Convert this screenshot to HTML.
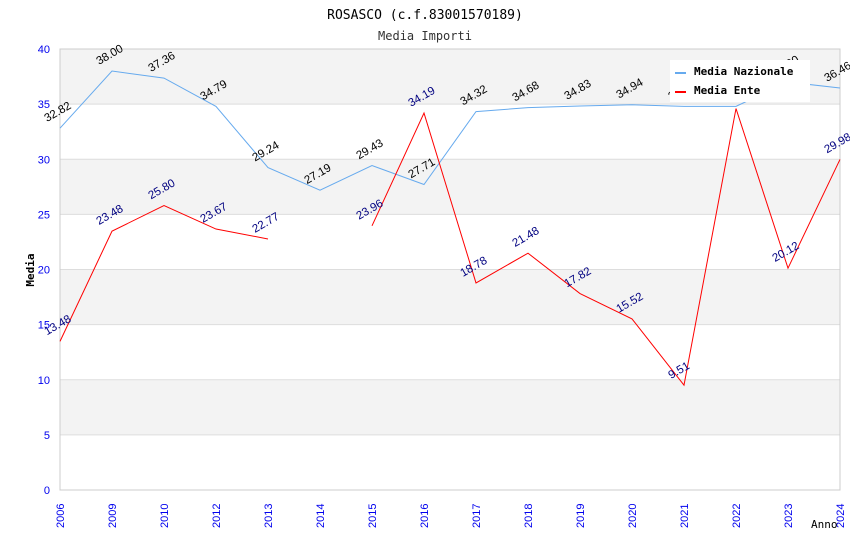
<!DOCTYPE html>
<html><head><meta charset="utf-8"><style>
body{margin:0;background:#fff;}
svg{display:block;font-family:"DejaVu Sans Mono","Liberation Mono",monospace;}
</style></head><body>
<svg id="chart" width="850" height="550" xmlns="http://www.w3.org/2000/svg">
<text x="425" y="19" text-anchor="middle" font-size="13" fill="#000">ROSASCO (c.f.83001570189)</text>
<text x="425" y="40" text-anchor="middle" font-size="12" fill="#333">Media Importi</text>
<g id="bands"></g><g id="grid"></g><g id="axes"></g><g id="series"></g><g id="labels"></g>
<text transform="translate(34,270) rotate(-90)" text-anchor="middle" font-size="11" font-weight="bold">Media</text>
<text x="811" y="528" font-size="11">Anno</text>
<g>
<rect x="670" y="60" width="140" height="42" fill="#fff"/>
<line x1="675" y1="73" x2="686" y2="73" stroke="#66aaee" stroke-width="2"/>
<text x="694" y="75" font-size="11" font-weight="bold">Media Nazionale</text>
<line x1="675" y1="92" x2="686" y2="92" stroke="#ff0000" stroke-width="2"/>
<text x="694" y="94" font-size="11" font-weight="bold">Media Ente</text>
</g>
</svg>
<script>
const years=["2006","2009","2010","2012","2013","2014","2015","2016","2017","2018","2019","2020","2021","2022","2023","2024"];
const nazionale=[32.82,38.00,37.36,34.79,29.24,27.19,29.43,27.71,34.32,34.68,34.83,34.94,34.8,34.8,37.0,36.46];
const ente=[13.48,23.48,25.80,23.67,22.77,null,23.96,34.19,18.78,21.48,17.82,15.52,9.51,34.6,20.12,29.98];
const yTicks=[0,5,10,15,20,25,30,35,40];
const X0=60,X1=840,Y0=490,Y1=49;
const NS="http://www.w3.org/2000/svg";
const xs=i=>X0+i*(X1-X0)/(years.length-1);
const ys=v=>Y0-(v/40)*(Y0-Y1);
function mk(tag,attrs,parent,txt){const e=document.createElementNS(NS,tag);for(const k in attrs)e.setAttribute(k,attrs[k]);if(txt!=null)e.textContent=txt;document.getElementById(parent).appendChild(e);return e;}
for(let i=0;i<yTicks.length-1;i++){
  const a=yTicks[i],b=yTicks[i+1];
  const r=mk('rect',{x:X0,y:ys(b),width:X1-X0,height:ys(a)-ys(b),fill:(i%2==1)?'#f3f3f3':'#fff'},'bands');
  
  
}
yTicks.forEach(t=>{
  const l=mk('line',{x1:X0,x2:X1,y1:ys(t),y2:ys(t),stroke:'#ddd'},'grid');
  
  
  const tx=mk('text',{x:50,y:ys(t)+4,'text-anchor':'end','font-size':11,fill:'#0000ee','font-family':'"Liberation Sans",sans-serif'},'axes',t);
  
  
});
mk('rect',{x:X0,y:Y1,width:X1-X0,height:Y0-Y1,fill:'none',stroke:'#ccc'},'axes');
years.forEach((y,i)=>{
  const tx=mk('text',{transform:`translate(${xs(i)+4},${Y0+38}) rotate(-90)`,'font-size':11,fill:'#0000ee','font-family':'"Liberation Sans",sans-serif'},'axes',y);
  
  
});
function draw(data,color,lblColor,name){
  let d='',pen=false;
  data.forEach((v,i)=>{if(v==null){pen=false;return;}d+=(pen?'L':'M')+xs(i)+','+ys(v);pen=true;});
  const p=mk('path',{d:d,fill:'none',stroke:color,'stroke-width':1},'series');
  
  
  data.forEach((v,i)=>{if(v==null)return;
    const t=mk('text',{transform:`translate(${xs(i)-13},${ys(v)-6}) rotate(-30)`,'font-size':11.5,fill:lblColor,'font-family':'"Liberation Sans",sans-serif'},'labels',v.toFixed(2));
    
    
  });
}
draw(nazionale,'#66aaee','#000','nazionale');
draw(ente,'#ff0000','#000080','ente');
</script>
</body></html>
